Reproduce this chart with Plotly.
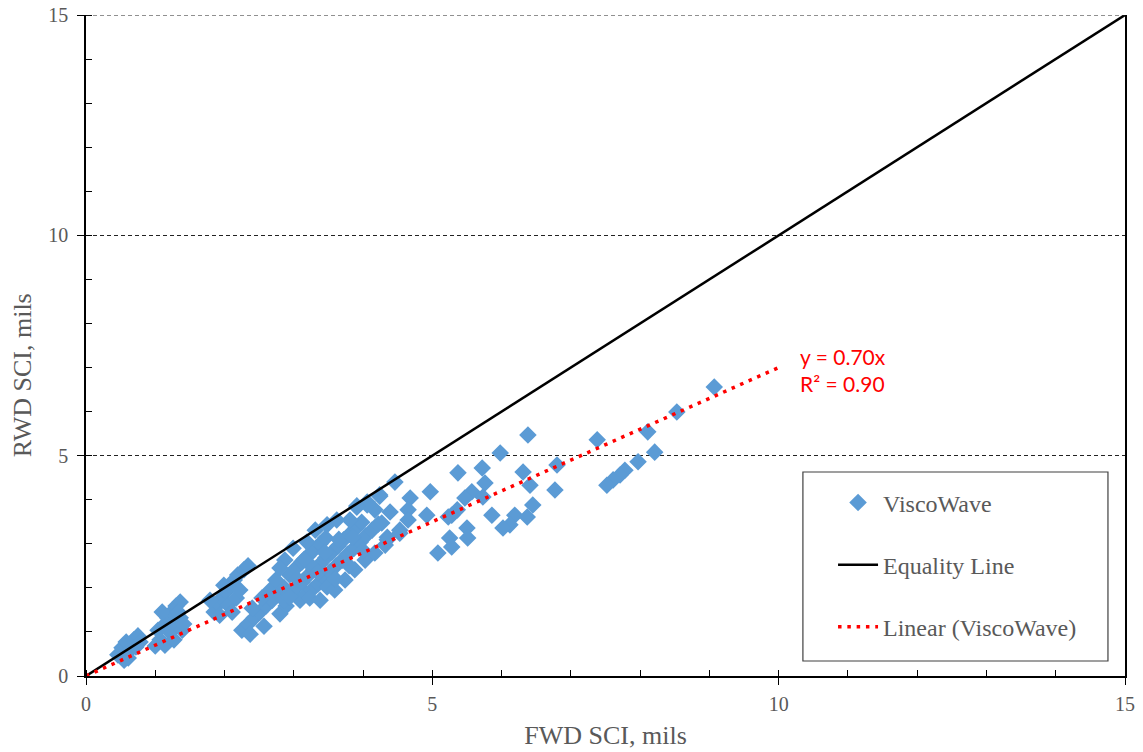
import plotly.graph_objects as go

# ---- data ----
fwd_sci = [
    0.46, 0.52, 0.58, 0.64, 0.69, 0.75, 0.61, 0.72, 0.78, 0.55,
    1.00, 1.07, 1.04, 1.13, 1.18, 1.24, 1.30, 1.36, 1.21, 1.30, 1.36, 1.39, 1.14, 1.27, 1.41, 1.10, 1.33,
    1.85, 1.91, 1.96, 2.02, 2.08, 2.14, 2.19, 2.28, 2.34, 1.93, 2.05, 2.17, 2.22, 2.11, 1.99, 1.79,
    2.25, 2.34, 2.43, 2.51, 2.60, 2.69, 2.77, 2.86, 2.40, 2.54, 2.66, 2.74, 2.37, 2.57, 2.80, 2.89,
    2.86, 2.94, 3.03, 3.12, 3.20, 3.29, 3.38, 3.46, 3.55, 3.64, 3.72, 3.81, 3.90, 3.98,
    2.94, 3.03, 3.12, 3.20, 3.29, 3.38, 3.46,
    3.09, 3.18, 3.26, 3.35, 3.44, 3.52, 3.61, 3.70, 3.78, 3.87, 3.96, 4.04, 4.13, 4.22,
    3.23, 3.48, 2.94, 3.38, 3.59, 3.74, 3.88, 4.03, 4.17, 4.32,
    2.99, 3.19, 3.48, 3.62, 3.91, 4.06, 4.24, 4.46, 2.87, 2.80,
    4.68, 4.97, 4.65, 4.92, 4.53, 4.35, 5.08, 4.39, 4.17, 3.81, 3.31,
    4.27, 4.65, 4.53, 4.35, 4.24, 4.06, 3.91,
    3.05, 3.25, 3.45, 3.65, 3.85, 3.60, 3.80, 4.00, 3.15, 3.35,
    6.38, 5.98, 7.38, 8.11, 8.53, 8.21, 7.97, 7.78, 7.71, 7.61, 7.52, 6.80, 6.77, 6.41, 6.31,
    5.72, 5.76, 5.37, 5.57, 5.47, 5.73, 6.45, 5.36, 5.28, 5.86, 6.19, 6.37, 6.12, 6.02, 5.50,
    5.51, 5.25, 5.28, 5.23, 9.07,
]
rwd_sci = [
    0.48, 0.64, 0.77, 0.59, 0.82, 0.91, 0.41, 0.66, 0.77, 0.36,
    0.68, 0.82, 1.04, 1.16, 1.32, 1.45, 1.59, 1.68, 1.00, 1.13, 1.32, 1.04, 0.70, 0.82, 1.18, 1.45, 1.45,
    1.45, 1.63, 1.77, 1.91, 2.04, 2.18, 2.29, 2.41, 2.50, 1.38, 1.61, 1.77, 1.95, 1.45, 2.06, 1.72,
    1.04, 1.18, 1.32, 1.45, 1.59, 1.72, 1.86, 2.00, 1.54, 1.77, 1.95, 2.18, 0.95, 1.13, 1.41, 1.59,
    1.72, 1.86, 2.00, 2.13, 2.27, 2.41, 2.54, 2.68, 2.81, 2.95, 3.09, 3.22, 3.36, 3.49,
    2.29, 2.45, 2.59, 2.72, 2.86, 3.00, 3.13,
    1.72, 1.86, 1.95, 2.09, 2.22, 2.36, 2.50, 2.63, 2.77, 2.90, 3.04, 3.18, 3.31, 3.45,
    1.77, 2.02, 1.79, 1.72, 1.95, 2.18, 2.41, 2.63, 2.79, 2.97,
    2.90, 3.04, 3.43, 3.54, 3.83, 3.95, 4.11, 4.40, 2.63, 2.45,
    4.04, 4.18, 3.77, 3.65, 3.31, 3.15, 2.79, 3.72, 3.77, 3.54, 3.31,
    3.47, 3.54, 3.24, 3.09, 4.08, 3.88, 3.86,
    2.20, 2.50, 2.80, 3.10, 3.15, 2.20, 2.50, 2.85, 2.65, 2.35,
    5.47, 5.06, 5.36, 5.54, 5.99, 5.08, 4.86, 4.67, 4.56, 4.45, 4.33, 4.79, 4.22, 4.33, 4.63,
    4.72, 4.38, 4.61, 4.18, 4.04, 4.06, 3.88, 3.77, 3.65, 3.65, 3.65, 3.61, 3.43, 3.36, 3.36,
    3.13, 3.13, 2.93, 3.61, 6.56,
]
equality_x = [0, 15]
equality_y = [0, 15]
trend_slope = 0.70
trend_r2 = 0.90
trend_x = [0, 10]
trend_y = [trend_slope * v for v in trend_x]
tick_vals = [0, 5, 10, 15]

serif = "Liberation Serif, Times New Roman, serif"
gray = "#595959"
grid_color = "#222222"

fig = go.Figure()
fig.add_trace(go.Scatter(
    x=fwd_sci, y=rwd_sci, mode="markers", name="ViscoWave", legendgroup="a",
    marker=dict(symbol="diamond", size=13.5, color="#5B9BD5", line=dict(width=0)),
))
fig.add_trace(go.Scatter(
    x=equality_x, y=equality_y, mode="lines", name="Equality Line", legendgroup="b",
    line=dict(color="black", width=2.5),
))
fig.add_trace(go.Scatter(
    x=trend_x, y=trend_y, mode="lines", name="Linear (ViscoWave)", legendgroup="c",
    line=dict(color="#FF0000", width=3.5, dash="3.5px,5.8px"),
))

fig.add_annotation(
    x=10.28, y=6.94, xref="x", yref="y", xanchor="left", yanchor="middle",
    text=f"y = {trend_slope:.2f}x<br>R² = {trend_r2:.2f}", showarrow=False, align="left",
    font=dict(family="Lato, Liberation Sans, sans-serif", size=21, color="#FF0000"),
)

# y-axis title placed as rotated text
fig.add_annotation(
    x=-0.0616, y=0.455, xref="paper", yref="paper", xanchor="center", yanchor="middle",
    text="RWD SCI, mils", textangle=-90, showarrow=False,
    font=dict(family=serif, size=26, color=gray),
)

# top dashed gridline at 15
fig.add_shape(type="line", xref="paper", yref="y", x0=0, x1=1, y0=15, y1=15,
              line=dict(color=grid_color, width=1, dash="4px,3px"))

# legend frame
fig.add_shape(type="rect", xref="paper", yref="paper",
              x0=0.690, x1=0.9836, y0=0.0227, y1=0.3086,
              line=dict(color="#404040", width=1.2), fillcolor="white", layer="below")

axis_common = dict(
    range=[0, 15], tickvals=tick_vals, showline=True, linecolor="black", linewidth=1.5,
    ticks="outside", ticklen=7, tickcolor="black", tickwidth=1, automargin=False,
    tickfont=dict(family=serif, size=20, color=gray), zeroline=False,
    minor=dict(dtick=1, ticks="inside", ticklen=6, tickcolor="black", tickwidth=1, showgrid=False),
)

fig.update_layout(
    width=1143, height=752,
    margin=dict(l=86, r=18, t=15, b=76),
    paper_bgcolor="white", plot_bgcolor="white",
    showlegend=True,
    legend=dict(x=0.719, y=0.296, xanchor="left", yanchor="top",
                font=dict(family=serif, size=24, color=gray),
                bgcolor="rgba(0,0,0,0)", borderwidth=0,
                tracegroupgap=28, itemwidth=40),
    xaxis=dict(**axis_common, showgrid=False, mirror=False, ticklabelstandoff=2,
               title=dict(text="FWD SCI, mils", font=dict(family=serif, size=26, color=gray), standoff=12)),
    yaxis=dict(**axis_common, showgrid=True, gridcolor=grid_color, gridwidth=1, griddash="4px,3px",
               mirror=True, ticklabelstandoff=5),
)

fig.write_html("out.html")
